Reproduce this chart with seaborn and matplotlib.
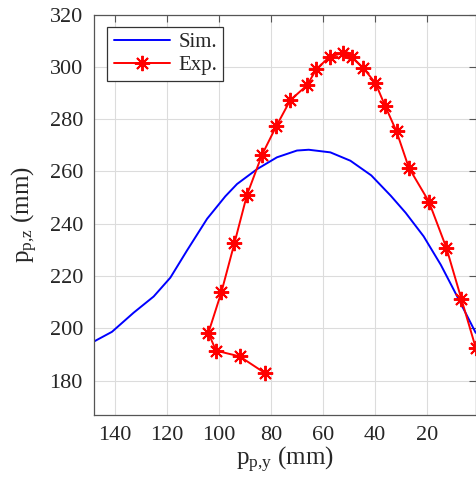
import matplotlib
matplotlib.use("Agg")
import matplotlib.pyplot as plt
import seaborn as sns

# simulated trajectory
sim_y = [147.9, 141.0, 132.7, 125.0, 118.6, 112.2, 104.5, 97.5, 93.0, 85.3,
         77.7, 70.0, 65.5, 57.2, 49.5, 41.5, 34.0, 28.3, 21.4, 14.8, 8.4, 1.4]
sim_z = [195.0, 198.7, 206.0, 212.2, 219.4, 229.8, 241.9, 250.5, 255.2, 260.9,
         265.4, 268.0, 268.3, 267.3, 264.1, 258.5, 250.7, 244.2, 235.2, 224.3, 212.0, 198.3]

# experimental trajectory
exp_y = [82.1, 92.0, 101.1, 104.0, 99.0, 94.0, 89.2, 83.4, 78.0, 72.6, 66.1, 62.6,
         57.5, 52.5, 48.9, 44.6, 39.9, 36.1, 31.8, 27.1, 19.4, 12.7, 6.9, 1.4]
exp_z = [182.8, 189.3, 191.5, 198.3, 213.9, 232.6, 251.0, 266.4, 277.2, 287.2, 293.0, 299.0,
         303.9, 305.2, 303.6, 299.6, 293.8, 284.9, 275.3, 261.5, 248.5, 230.9, 211.2, 192.6]

sns.set_style("whitegrid")
plt.rcParams["font.family"] = ["Liberation Serif", "DejaVu Serif"]
plt.rcParams["mathtext.fontset"] = "custom"
plt.rcParams["mathtext.rm"] = "Liberation Serif"
plt.rcParams["mathtext.it"] = "Liberation Serif:italic"

fig = plt.figure(figsize=(4.76, 4.93), dpi=100)
ax = fig.add_axes([94 / 476, 78 / 493, 382 / 476, 400.5 / 493])

sns.lineplot(
    x=sim_y,
    y=sim_z,
    sort=False,
    estimator=None,
    color="#0000ff",
    linewidth=1.4,
    label="Sim.",
    ax=ax
)

sns.lineplot(
    x=exp_y,
    y=exp_z,
    sort=False,
    estimator=None,
    color="#ff0000",
    linewidth=1.4,
    marker=(8, 2, 0),
    markersize=11,
    markeredgewidth=1.4,
    markeredgecolor="#ff0000",
    label="Exp.",
    ax=ax
)

ax.set_xlim(147.9, 1.3)
ax.set_ylim(166.9, 320)
ax.set_xticks([140, 120, 100, 80, 60, 40, 20])
ax.set_yticks([180, 200, 220, 240, 260, 280, 300, 320])

ax.grid(True, color="#dcdcdc", linewidth=0.8)
for s in ax.spines.values():
    s.set_color("#555555")
    s.set_linewidth(0.9)

ax.tick_params(
    direction="in",
    top=True,
    right=True,
    labelsize=16,
    length=5,
    width=0.8,
    color="#555555",
    pad=8
)

ax.set_xlabel(r"p$_{\mathrm{p{,}y}}$ (mm)", fontsize=18, labelpad=0)
ax.set_ylabel(r"p$_{\mathrm{p{,}z}}$ (mm)", fontsize=18, labelpad=7)

leg = ax.legend(
    loc="upper left",
    bbox_to_anchor=(0.035, 0.97),
    borderaxespad=0,
    fontsize=15,
    fancybox=False,
    framealpha=1,
    edgecolor="#333333",
    handlelength=2.7,
    handletextpad=0.4,
    labelspacing=0.15,
    borderpad=0.3
)
leg.get_frame().set_linewidth(0.9)

fig.savefig("out.png", dpi=100)
